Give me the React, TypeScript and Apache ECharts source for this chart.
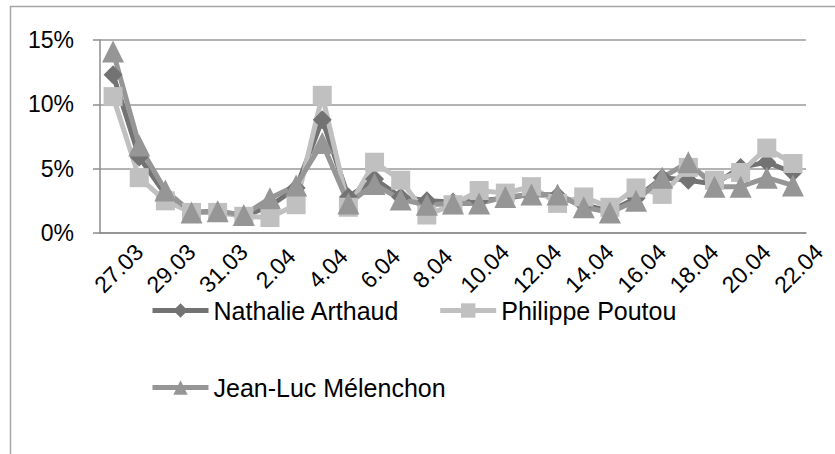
import React, { useEffect, useRef } from "react";
import * as echarts from "echarts";

const categories = [
  "27.03", "28.03", "29.03", "30.03", "31.03", "1.04", "2.04", "3.04", "4.04",
  "5.04", "6.04", "7.04", "8.04", "9.04", "10.04", "11.04", "12.04", "13.04",
  "14.04", "15.04", "16.04", "17.04", "18.04", "19.04", "20.04", "21.04", "22.04",
];

const arthaud = [12.3, 5.9, 3.0, 1.6, 1.7, 1.3, 2.1, 3.5, 8.8, 2.8, 4.2, 2.8, 2.5, 2.4, 2.5, 2.7, 3.0, 2.9, 2.2, 1.7, 2.7, 4.3, 4.1, 3.8, 5.1, 5.5, 4.7];
const poutou = [10.6, 4.3, 2.5, 1.6, 1.6, 1.3, 1.2, 2.2, 10.7, 2.0, 5.5, 4.1, 1.4, 2.2, 3.3, 3.1, 3.6, 2.3, 2.8, 2.0, 3.5, 3.0, 5.1, 4.1, 4.7, 6.6, 5.4];
const melenchon = [14.1, 6.8, 3.3, 1.6, 1.7, 1.4, 2.7, 3.7, 7.0, 2.3, 3.8, 2.6, 2.2, 2.3, 2.3, 2.8, 3.0, 3.0, 2.0, 1.6, 2.5, 4.3, 5.5, 3.6, 3.6, 4.3, 3.7];

const yTicks = [0, 5, 10, 15];

const FONT = "Liberation Sans";

export default function App() {
  const ref = useRef<HTMLDivElement>(null);
  useEffect(() => {
    if (!ref.current) return;
    const chart = echarts.init(ref.current, null, { renderer: "svg" });
    const mk = (name: string, data: number[], color: string, symbol: string, size: number) => ({
      name,
      type: "line",
      data,
      symbol,
      symbolSize: size,
      showSymbol: true,
      showAllSymbol: true,
      lineStyle: { color, width: 5 },
      itemStyle: { color },
      z: 2,
    });
    const legendCommon = {
      itemWidth: 56,
      itemHeight: 18,
      padding: 5,
      lineStyle: { width: 5 },
      textStyle: { fontSize: 25, color: "#000", fontFamily: FONT },
    };
    chart.setOption({
      animation: false,
      textStyle: { fontFamily: FONT },
      grid: { left: 100, right: 29, top: 40, bottom: 221, containLabel: false },
      graphic: [
        { type: "line", shape: { x1: 10, y1: 6.5, x2: 835, y2: 6.5 }, style: { stroke: "#a6a6a6", lineWidth: 1.5 } },
        { type: "line", shape: { x1: 10.5, y1: 6, x2: 10.5, y2: 454 }, style: { stroke: "#a6a6a6", lineWidth: 1.5 } },
      ],
      legend: [
        {
          ...legendCommon,
          data: ["Nathalie Arthaud", "Philippe Poutou"],
          left: 145,
          top: 293,
          itemGap: 38,
        },
        {
          ...legendCommon,
          data: ["Jean-Luc Mélenchon"],
          left: 145,
          top: 370,
        },
      ],
      xAxis: {
        type: "category",
        data: categories,
        boundaryGap: true,
        axisLine: { lineStyle: { color: "#8c8c8c", width: 1.5 } },
        axisTick: { interval: 0, length: 7, lineStyle: { color: "#8c8c8c", width: 1.5 } },
        axisLabel: {
          interval: 1,
          rotate: 45,
          align: "center",
          verticalAlign: "middle",
          margin: 41,
          padding: [0, 0, 0, 16],
          fontSize: 23,
          color: "#000",
          fontFamily: FONT,
        },
      },
      yAxis: {
        type: "value",
        min: 0,
        max: 15,
        interval: 5,
        axisLine: { show: true, lineStyle: { color: "#8c8c8c", width: 1.5 } },
        axisTick: { show: true, length: 7, lineStyle: { color: "#8c8c8c", width: 1.5 } },
        splitLine: { lineStyle: { color: "#9a9a9a", width: 1.5 } },
        axisLabel: {
          formatter: (v: number) => (yTicks.includes(v) ? v + "%" : ""),
          fontSize: 23,
          color: "#000",
          margin: 26,
          fontFamily: FONT,
        },
      },
      series: [
        mk("Nathalie Arthaud", arthaud, "#737373", "diamond", 19),
        mk("Philippe Poutou", poutou, "#c0c0c0", "rect", 19),
        mk("Jean-Luc Mélenchon", melenchon, "#969696", "triangle", 22),
      ],
    });
    return () => chart.dispose();
  }, []);
  return (
    <div
      ref={ref}
      style={{ position: "absolute", left: 0, top: 0, width: 835, height: 454 }}
    />
  );
}
